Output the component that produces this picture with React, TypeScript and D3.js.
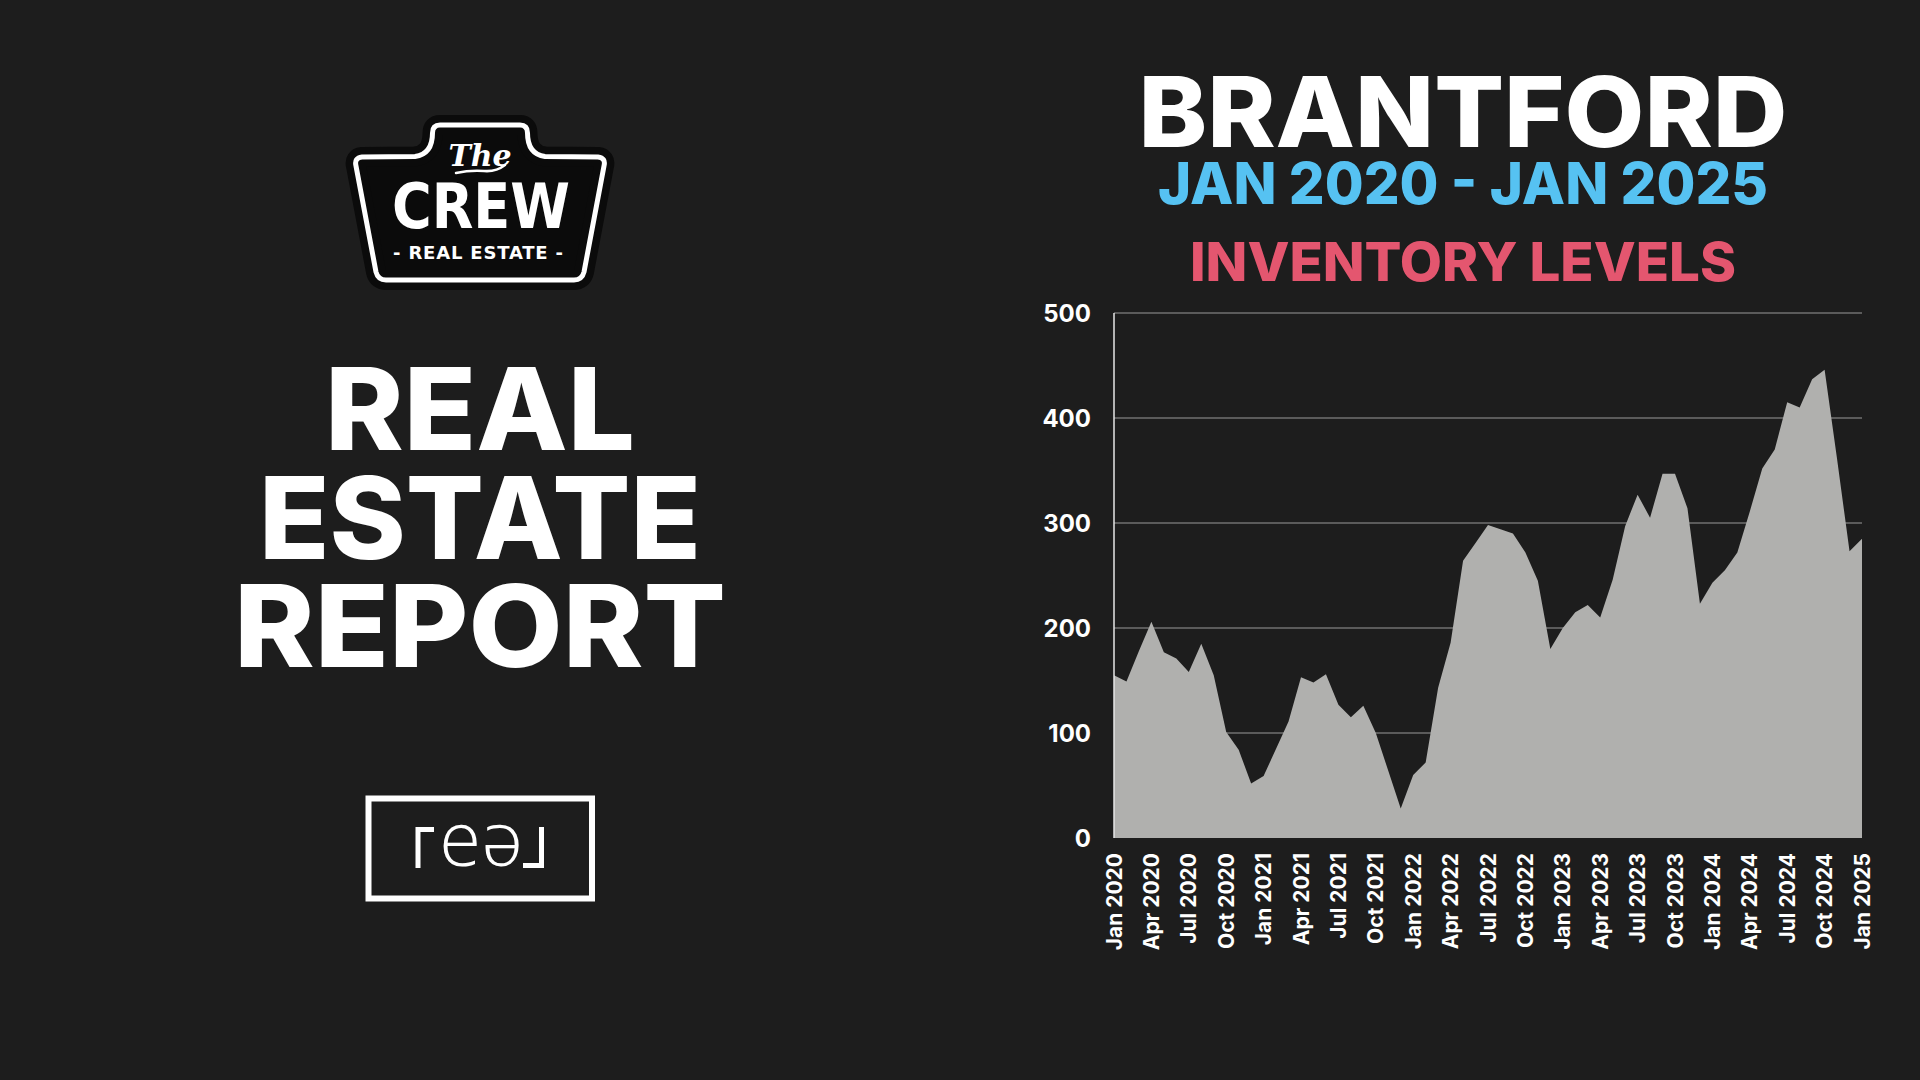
import * as d3 from 'd3';

// Brantford inventory, monthly Jan 2020 .. Jan 2025
const inventory = [
  155, 149, 178, 206, 177, 171, 158, 185, 155, 101, 84, 52,
  59, 85, 111, 153, 148, 156, 127, 115, 126, 100, 64, 28,
  60, 72, 143, 186, 264, 281, 298, 294, 290, 272, 245, 180,
  200, 215, 222, 210, 246, 297, 327, 305, 347, 347, 314, 223,
  243, 255, 272, 311, 352, 370, 415, 410, 437, 446, 361, 273,
  285,
];

const xTickLabels = [
  'Jan 2020', 'Apr 2020', 'Jul 2020', 'Oct 2020',
  'Jan 2021', 'Apr 2021', 'Jul 2021', 'Oct 2021',
  'Jan 2022', 'Apr 2022', 'Jul 2022', 'Oct 2022',
  'Jan 2023', 'Apr 2023', 'Jul 2023', 'Oct 2023',
  'Jan 2024', 'Apr 2024', 'Jul 2024', 'Oct 2024',
  'Jan 2025',
];
const xTickStep = 3; // one label every three months

const yTicks = [0, 100, 200, 300, 400, 500];

const reportLines = ['REAL', 'ESTATE', 'REPORT'];
const reportWidths = [310, 442, 492];

const W = 1920;
const H = 1080;
const BG = '#1d1d1d';
const HEAVY = 'Inter, "Noto Sans", sans-serif';

const plot = { left: 1114, right: 1862, top: 313, bottom: 838 };

const x = d3.scaleLinear().domain([0, inventory.length - 1]).range([plot.left, plot.right]);
const y = d3.scaleLinear().domain([0, 500]).range([plot.bottom, plot.top]);

const areaPath = d3.area<number>()
  .x((_, i) => x(i))
  .y0(y(0))
  .y1(d => y(d))(inventory) as string;

// keystone badge outline of the logo
const badge =
  'M 440,125 L 520,125 Q 527.5,125 527.5,133 Q 527.5,154 545,156.5 L 598,157 Q 606,158 604,166 ' +
  'L 584,272 Q 582,280 574,280 L 386,280 Q 378,280 376,272 L 356,166 Q 354,158 362,157 ' +
  'L 415,156.5 Q 432.5,154 432.5,133 Q 432.5,125 440,125 Z';

const CrewLogo = () => (
  <g>
    <path d={badge} fill="#0b0b0b" stroke="#0b0b0b" strokeWidth={20} strokeLinejoin="round" />
    <path d={badge} fill="none" stroke="#fff" strokeWidth={5} strokeLinejoin="round" />
    <text x={480} y={166} textAnchor="middle" fill="#fff" fontFamily='"DejaVu Serif", serif'
      fontStyle="italic" fontWeight="bold" fontSize={30}>The</text>
    <path d="M 456,173 Q 470,170 484,171 Q 496,172 505,165" fill="none" stroke="#fff" strokeWidth={2.5} strokeLinecap="round" />
    <text x={392} y={228} fill="#fff" fontFamily='"DejaVu Sans", sans-serif' fontWeight="bold"
      fontSize={62} textLength={178} lengthAdjust="spacingAndGlyphs">CREW</text>
    <text x={393} y={259} fill="#fff" fontFamily='"DejaVu Sans", sans-serif' fontWeight="bold"
      fontSize={18} textLength={170} lengthAdjust="spacing">- REAL ESTATE -</text>
  </g>
);

const RealLogo = () => (
  <g>
    <rect x={368.5} y={798.5} width={223.5} height={100} fill="none" stroke="#fff" strokeWidth={6} />
    <path d="M 418,868 L 418,829.5 L 434,829.5" fill="none" stroke="#fff" strokeWidth={5} />
    <path d="M 541.5,827 L 541.5,865.5 L 523,865.5" fill="none" stroke="#fff" strokeWidth={5} />
    <text x={460} y={866} textAnchor="middle" fill="#fff" fontFamily='"Open Sans", sans-serif'
      fontWeight={300} fontSize={76}>e</text>
    <text x={502} y={866} textAnchor="middle" fill="#fff" fontFamily='"Open Sans", sans-serif'
      fontWeight={300} fontSize={76}>ə</text>
  </g>
);

export default function App() {
  return (
    <div style={{ position: 'fixed', left: 0, top: 0, width: W, height: H, background: BG }}>
      <svg width={W} height={H} viewBox={`0 0 ${W} ${H}`} style={{ display: 'block' }}>
        <rect width={W} height={H} fill={BG} />

        <CrewLogo />

        {reportLines.map((line, i) => (
          <text key={line} x={480} y={450 + i * 108.5} textAnchor="middle" fill="#fff"
            fontFamily={HEAVY} fontWeight={800} fontSize={114}
            textLength={reportWidths[i]} lengthAdjust="spacingAndGlyphs">{line}</text>
        ))}

        <RealLogo />

        {/* titles */}
        <text x={1463} y={147} textAnchor="middle" fill="#fff" fontFamily={HEAVY} fontWeight={800}
          fontSize={98} textLength={649} lengthAdjust="spacingAndGlyphs">BRANTFORD</text>
        <text x={1463} y={204} textAnchor="middle" fill="#56c2f2" fontFamily={HEAVY} fontWeight={800}
          fontSize={58} textLength={610} lengthAdjust="spacingAndGlyphs">JAN 2020 - JAN 2025</text>
        <text x={1463} y={281} textAnchor="middle" fill="#e4566f" fontFamily={HEAVY} fontWeight={800}
          fontSize={54} textLength={546} lengthAdjust="spacingAndGlyphs">INVENTORY LEVELS</text>

        {/* grid */}
        {yTicks.filter(t => t > 0).map(t => (
          <line key={t} x1={plot.left} x2={plot.right} y1={y(t)} y2={y(t)} stroke="#9a9a9a" strokeWidth={1.2} />
        ))}

        <path d={areaPath} fill="#b0b0ae" />

        <line x1={plot.left} x2={plot.left} y1={plot.top} y2={plot.bottom} stroke="#e6e6e6" strokeWidth={1.5} />

        {yTicks.map(t => (
          <text key={t} x={1091} y={y(t)} dy="0.36em" textAnchor="end" fill="#fff" fontFamily={HEAVY}
            fontWeight={700} fontSize={24}>{t}</text>
        ))}

        {xTickLabels.map((lab, k) => (
          <text key={lab} transform={`translate(${x(k * xTickStep)},${plot.bottom + 15}) rotate(-90)`}
            dy="0.36em" textAnchor="end" fill="#fff" fontFamily={HEAVY} fontWeight={700} fontSize={21}>
            {lab}
          </text>
        ))}
      </svg>
    </div>
  );
}
